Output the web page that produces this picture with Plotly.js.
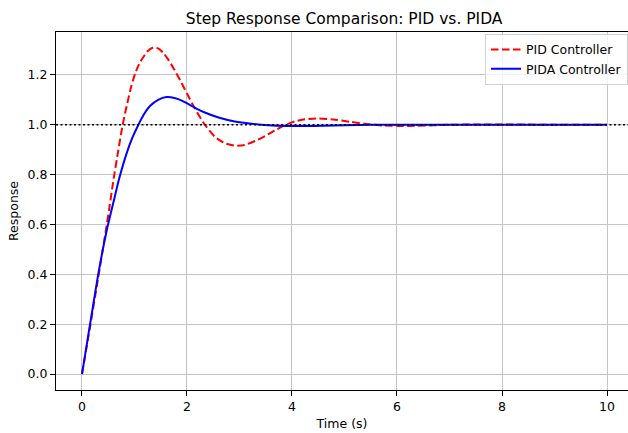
<!DOCTYPE html>
<html>
<head>
<meta charset="utf-8">
<script src="https://cdn.plot.ly/plotly-3.0.1.min.js"></script>
<style>html,body{margin:0;padding:0;background:#fff;}#chart{width:628px;height:433px;}</style>
</head>
<body>
<div id="chart"></div>
<script>
// Time samples and responses
const pidTime = [0, 0.15, 0.30, 0.45, 0.52, 0.60, 0.69, 0.775, 0.84, 0.94, 1.02, 1.105, 1.25, 1.36, 1.45, 1.55, 1.64, 1.74, 1.87, 2.0, 2.15, 2.34, 2.53, 2.72, 2.91, 3.10, 3.30, 3.49, 3.68, 3.87, 4.06, 4.25, 4.47, 4.79, 5.10, 5.42, 5.74, 6.06, 6.37, 6.7, 7.0, 7.5, 8, 9, 10];
const pidResponse = [0, 0.185, 0.375, 0.57, 0.665, 0.78, 0.895, 1.0, 1.065, 1.155, 1.21, 1.25, 1.295, 1.31, 1.306, 1.288, 1.262, 1.228, 1.178, 1.125, 1.065, 1.0, 0.952, 0.926, 0.916, 0.919, 0.935, 0.955, 0.978, 0.999, 1.014, 1.022, 1.025, 1.021, 1.012, 1.003, 0.997, 0.995, 0.996, 0.998, 1.0, 1.001, 1.001, 1.0, 1.0];

const pidaTime = [0, 0.158, 0.305, 0.47, 0.60, 0.71, 0.85, 0.96, 1.07, 1.18, 1.295, 1.45, 1.61, 1.78, 1.93, 2.07, 2.18, 2.34, 2.6, 2.91, 3.23, 3.55, 3.87, 4.25, 4.6, 5.0, 5.5, 6, 7, 8, 9, 10];
const pidaResponse = [0, 0.205, 0.395, 0.575, 0.69, 0.785, 0.885, 0.948, 0.998, 1.042, 1.075, 1.1, 1.111, 1.106, 1.094, 1.078, 1.065, 1.049, 1.029, 1.013, 1.004, 0.998, 0.995, 0.995, 0.996, 0.998, 1.0, 1.0, 1.0, 1.0, 1.0, 1.0];

const seriesNames = ["PID Controller", "PIDA Controller"];
const referenceLevel = 1.0;
const xTicks = [0, 2, 4, 6, 8, 10];
const yTicks = [0.0, 0.2, 0.4, 0.6, 0.8, 1.0, 1.2];

const FONT = "DejaVu Sans, sans-serif";

const traces = [
  {
    x: pidTime, y: pidResponse, name: seriesNames[0], type: "scatter", mode: "lines",
    line: {color: "#ff0000", width: 2, dash: "7.5px,3.5px", shape: "spline", smoothing: 0.6}
  },
  {
    x: pidaTime, y: pidaResponse, name: seriesNames[1], type: "scatter", mode: "lines",
    line: {color: "#0000ff", width: 2, shape: "spline", smoothing: 0.6}
  }
];

const layout = {
  width: 628, height: 433,
  margin: {l: 56, r: 0, t: 32, b: 43, pad: 0},
  paper_bgcolor: "#ffffff", plot_bgcolor: "#ffffff",
  font: {family: FONT, size: 12.5, color: "#000000"},
  title: {text: "Step Response Comparison: PID vs. PIDA", font: {family: FONT, size: 15.5, color: "#000"},
          x: 0.548, xanchor: "center", y: 0.956, yanchor: "middle", yref: "container"},
  showlegend: true,
  legend: {x: 1.0, xanchor: "right", y: 0.995, yanchor: "top", bgcolor: "rgba(255,255,255,0.8)",
           bordercolor: "#d0d0d0", borderwidth: 1, font: {family: FONT, size: 12.5, color: "#000"},
           tracegroupgap: 0, itemwidth: 30},
  xaxis: {
    range: [-0.495, 10.4], tickvals: xTicks, ticktext: xTicks.map(String),
    showgrid: true, gridcolor: "#c4c4c4", gridwidth: 1, zeroline: false,
    showline: true, linecolor: "#000", linewidth: 1, mirror: true,
    ticks: "outside", ticklen: 5, tickwidth: 1, tickcolor: "#000",
    tickfont: {family: FONT, size: 12.5, color: "#000"},
    title: {text: "Time (s)", font: {family: FONT, size: 12.5, color: "#000"}, standoff: 6}
  },
  yaxis: {
    range: [-0.064, 1.372], tickvals: yTicks, ticktext: yTicks.map(v => v.toFixed(1)),
    showgrid: true, gridcolor: "#c4c4c4", gridwidth: 1, zeroline: false,
    showline: true, linecolor: "#000", linewidth: 1, mirror: false,
    ticks: "outside", ticklen: 5, tickwidth: 1, tickcolor: "#000",
    tickfont: {family: FONT, size: 12.5, color: "#000"},
    title: {text: "Response", font: {family: FONT, size: 12.5, color: "#000"}, standoff: 6}
  },
  shapes: [{
    type: "line", xref: "paper", x0: 0, x1: 1, yref: "y", y0: referenceLevel, y1: referenceLevel,
    line: {color: "#000", width: 1.6, dash: "2px,2.5px"}, layer: "above"
  }]
};

Plotly.newPlot("chart", traces, layout, {displayModeBar: false, staticPlot: true});
</script>
</body>
</html>
